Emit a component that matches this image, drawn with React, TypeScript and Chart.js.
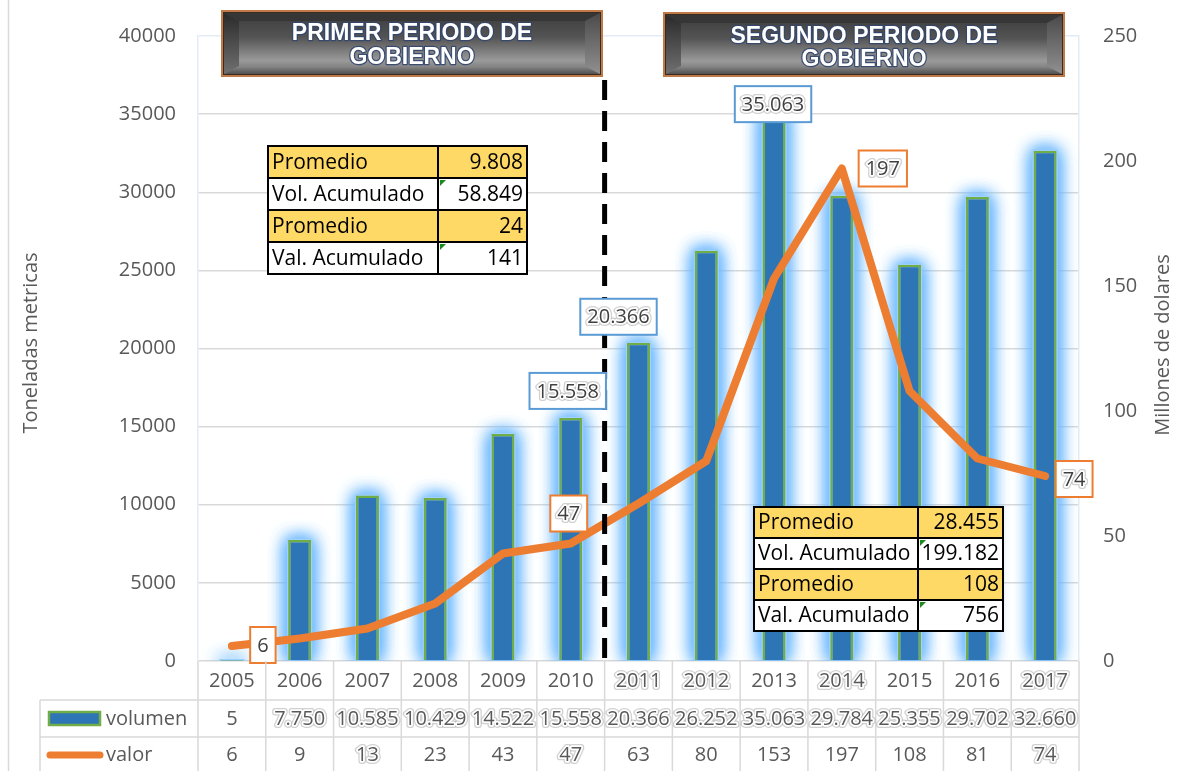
import React, { useEffect, useRef } from 'react';
import { Chart, registerables } from 'chart.js';

Chart.register(...registerables);

const years = ['2005', '2006', '2007', '2008', '2009', '2010', '2011', '2012', '2013', '2014', '2015', '2016', '2017'];
const volumen = [5, 7750, 10585, 10429, 14522, 15558, 20366, 26252, 35063, 29784, 25355, 29702, 32660];
const valor = [6, 9, 13, 23, 43, 47, 63, 80, 153, 197, 108, 81, 74];

const leftTicks = [0, 5000, 10000, 15000, 20000, 25000, 30000, 35000, 40000];
const rightTicks = [0, 50, 100, 150, 200, 250];

const summary1 = [
  ['Promedio', '9.808'],
  ['Vol. Acumulado', '58.849'],
  ['Promedio', '24'],
  ['Val. Acumulado', '141'],
];
const summary2 = [
  ['Promedio', '28.455'],
  ['Vol. Acumulado', '199.182'],
  ['Promedio', '108'],
  ['Val. Acumulado', '756'],
];

// which data labels are shown (index into series) and their offset from the mark
const volLabelIdx = [5, 6, 8];
const volLabelOff = [[-3, -27], [-20, -26], [-1, -9]];
const valLabelIdx = [0, 5, 9, 12];
const valLabelOff = [[31, -1], [-2, -30], [41, 0], [29, 3]];

const FONT = "'Open Sans', sans-serif";
const TXT = '#595959';

function fmt(n: number): string {
  const s = String(Math.round(n));
  return s.replace(/\B(?=(\d{3})+(?!\d))/g, '.');
}

function haloText(ctx: CanvasRenderingContext2D, text: string, x: number, y: number, halo: boolean) {
  if (halo) {
    ctx.save();
    ctx.lineJoin = 'round';
    ctx.strokeStyle = 'rgba(170,170,170,0.55)';
    ctx.lineWidth = 6;
    ctx.strokeText(text, x, y);
    ctx.strokeStyle = '#ffffff';
    ctx.lineWidth = 3.5;
    ctx.strokeText(text, x, y);
    ctx.restore();
  }
  ctx.fillText(text, x, y);
}

function drawBanner(ctx: CanvasRenderingContext2D, x: number, y: number, w: number, h: number, lines: string[], ys: number[]) {
  ctx.save();
  ctx.fillStyle = '#c07a48';
  ctx.fillRect(x, y, w, h);
  ctx.fillStyle = '#3a2a20';
  ctx.fillRect(x + 2, y + 2, w - 4, h - 4);
  const ix = x + 3, iy = y + 3, iw = w - 6, ih = h - 6;
  const g = ctx.createLinearGradient(0, iy, 0, iy + ih);
  g.addColorStop(0, '#3c3c3c');
  g.addColorStop(0.4, '#545454');
  g.addColorStop(0.78, '#9a9a9a');
  g.addColorStop(1, '#6a6a6a');
  ctx.fillStyle = g;
  ctx.fillRect(ix, iy, iw, ih);
  const b = 15, bt = 8;
  const poly = (pts: number[][], fill: any) => {
    ctx.beginPath();
    ctx.moveTo(pts[0][0], pts[0][1]);
    for (let i = 1; i < pts.length; i++) ctx.lineTo(pts[i][0], pts[i][1]);
    ctx.closePath();
    ctx.fillStyle = fill;
    ctx.fill();
  };
  poly([[ix, iy], [ix + iw, iy], [ix + iw - b, iy + bt], [ix + b, iy + bt]], '#363636');
  const gb = ctx.createLinearGradient(0, iy + ih - bt, 0, iy + ih);
  gb.addColorStop(0, '#8a8a8a');
  gb.addColorStop(1, '#505050');
  poly([[ix, iy + ih], [ix + iw, iy + ih], [ix + iw - b, iy + ih - bt], [ix + b, iy + ih - bt]], gb);
  const gl = ctx.createLinearGradient(0, iy, 0, iy + ih);
  gl.addColorStop(0, '#2a2a2a');
  gl.addColorStop(1, '#707070');
  poly([[ix, iy], [ix + b, iy + bt], [ix + b, iy + ih - bt], [ix, iy + ih]], gl);
  const gr = ctx.createLinearGradient(0, iy, 0, iy + ih);
  gr.addColorStop(0, '#4a4a4a');
  gr.addColorStop(1, '#909090');
  poly([[ix + iw, iy], [ix + iw - b, iy + bt], [ix + iw - b, iy + ih - bt], [ix + iw, iy + ih]], gr);
  ctx.font = `bold 23px 'Liberation Sans', Arial, sans-serif`;
  ctx.textAlign = 'center';
  ctx.textBaseline = 'middle';
  const cx = x + w / 2;
  lines.forEach((t, i) => {
    ctx.lineJoin = 'round';
    ctx.strokeStyle = 'rgba(50,70,110,0.9)';
    ctx.lineWidth = 2.5;
    ctx.strokeText(t, cx, ys[i]);
    ctx.fillStyle = '#ffffff';
    ctx.fillText(t, cx, ys[i]);
  });
  ctx.restore();
}

function drawSummary(ctx: CanvasRenderingContext2D, rows: string[][], left: number, split: number, right: number, top: number, rowH: number) {
  ctx.save();
  rows.forEach((r, i) => {
    const y0 = top + i * rowH;
    ctx.fillStyle = i % 2 === 0 ? '#ffd966' : '#ffffff';
    ctx.fillRect(left, y0, right - left, rowH);
  });
  ctx.strokeStyle = '#000000';
  ctx.lineWidth = 2;
  ctx.strokeRect(left, top, right - left, rowH * rows.length);
  for (let i = 1; i < rows.length; i++) {
    ctx.beginPath();
    ctx.moveTo(left, top + i * rowH);
    ctx.lineTo(right, top + i * rowH);
    ctx.stroke();
  }
  ctx.beginPath();
  ctx.moveTo(split, top);
  ctx.lineTo(split, top + rowH * rows.length);
  ctx.stroke();
  ctx.font = `21px ${FONT}`;
  ctx.textBaseline = 'middle';
  ctx.fillStyle = '#000000';
  rows.forEach((r, i) => {
    const cy = top + i * rowH + rowH / 2 + 1;
    ctx.textAlign = 'left';
    ctx.fillText(r[0], left + 4, cy);
    ctx.textAlign = 'right';
    ctx.fillText(r[1], right - 4, cy);
    if (i % 2 === 1) {
      ctx.fillStyle = '#1e8a1e';
      ctx.beginPath();
      ctx.moveTo(split + 2, top + i * rowH + 2);
      ctx.lineTo(split + 8, top + i * rowH + 2);
      ctx.lineTo(split + 2, top + i * rowH + 8);
      ctx.closePath();
      ctx.fill();
      ctx.fillStyle = '#000000';
    }
  });
  ctx.restore();
}

function drawBoxLabel(ctx: CanvasRenderingContext2D, text: string, cx: number, cy: number, color: string, halo: boolean) {
  ctx.save();
  ctx.font = `20px ${FONT}`;
  const w = ctx.measureText(text).width + 14;
  const h = 36;
  ctx.fillStyle = '#ffffff';
  ctx.fillRect(cx - w / 2, cy - h / 2, w, h);
  ctx.strokeStyle = color;
  ctx.lineWidth = 2;
  ctx.strokeRect(cx - w / 2, cy - h / 2, w, h);
  ctx.fillStyle = '#404040';
  ctx.textAlign = 'center';
  ctx.textBaseline = 'middle';
  haloText(ctx, text, cx, cy + 1, halo);
  ctx.restore();
}

const yearHalo = [6, 7, 9, 12];
const valHalo = [2, 5, 12];

const customPlugin = {
  id: 'customDraw',
  beforeDatasetDraw(chart: any, args: any) {
    if (args.index === 0) {
      const ctx: CanvasRenderingContext2D = chart.ctx;
      const area = chart.chartArea;
      const meta = chart.getDatasetMeta(0);
      ctx.save();
      ctx.beginPath();
      ctx.rect(area.left, 0, area.right - area.left, area.bottom);
      ctx.clip();
      ctx.shadowColor = 'rgba(110,185,255,1)';
      ctx.shadowBlur = 18;
      ctx.fillStyle = 'rgba(160,210,255,1)';
      for (let pass = 0; pass < 3; pass++) {
        meta.data.forEach((el: any) => {
          const p = el.getProps(['x', 'y', 'base', 'width'], true);
          const top = Math.min(p.y, p.base) - 1;
          const h = Math.max(Math.abs(p.base - p.y), 4);
          ctx.fillRect(p.x - p.width / 2 - 1, top, p.width + 2, h + 1);
        });
      }
      ctx.restore();
    }
  },
  afterDatasetsDraw(chart: any) {
    const ctx: CanvasRenderingContext2D = chart.ctx;
    const xs = chart.scales.x;
    const yl = chart.scales.y;
    const yr = chart.scales.y1;
    const area = chart.chartArea;
    const n = years.length;
    const step = xs.getPixelForValue(1) - xs.getPixelForValue(0);

    // dashed divider between 2010 and 2011
    const dx = (xs.getPixelForValue(5) + xs.getPixelForValue(6)) / 2;
    ctx.save();
    ctx.strokeStyle = '#000000';
    ctx.lineWidth = 5;
    ctx.setLineDash([20, 11]);
    ctx.beginPath();
    ctx.moveTo(dx, 80);
    ctx.lineTo(dx, area.bottom);
    ctx.stroke();
    ctx.restore();

    // data labels
    volLabelIdx.forEach((idx, k) => {
      const px = xs.getPixelForValue(idx) + volLabelOff[k][0];
      const py = yl.getPixelForValue(volumen[idx]) + volLabelOff[k][1];
      drawBoxLabel(ctx, fmt(volumen[idx]), px, py, '#5b9bd5', true);
    });
    valLabelIdx.forEach((idx, k) => {
      const px = xs.getPixelForValue(idx) + valLabelOff[k][0];
      const py = yr.getPixelForValue(valor[idx]) + valLabelOff[k][1];
      drawBoxLabel(ctx, String(valor[idx]), px, py, '#ed7d31', idx !== 0);
    });

    // banners
    drawBanner(ctx, 221, 10, 382, 67, ['PRIMER PERIODO DE', 'GOBIERNO'], [34, 58]);
    drawBanner(ctx, 663, 12, 402, 65, ['SEGUNDO PERIODO DE', 'GOBIERNO'], [37, 60]);

    // summary tables
    drawSummary(ctx, summary1, 268, 438, 527, 146, 32);
    drawSummary(ctx, summary2, 754, 918, 1003, 507, 31);

    // data table
    const bottom = area.bottom;
    const row1 = bottom + 39;
    const row2 = bottom + 76;
    const tblBottom = chart.height;
    const legLeft = 40;
    ctx.save();
    ctx.strokeStyle = '#d9d9d9';
    ctx.lineWidth = 1.5;
    ctx.beginPath();
    ctx.moveTo(legLeft, row1); ctx.lineTo(area.right, row1);
    ctx.moveTo(legLeft, row2); ctx.lineTo(area.right, row2);
    ctx.moveTo(legLeft, row1); ctx.lineTo(legLeft, tblBottom);
    for (let i = 0; i <= n; i++) {
      const xb = xs.getPixelForValue(0) - step / 2 + i * step;
      ctx.moveTo(xb, bottom); ctx.lineTo(xb, tblBottom);
    }
    ctx.stroke();
    ctx.fillStyle = TXT;
    ctx.font = `20px ${FONT}`;
    ctx.textAlign = 'center';
    ctx.textBaseline = 'middle';
    for (let i = 0; i < n; i++) {
      const cx = xs.getPixelForValue(i);
      haloText(ctx, years[i], cx, bottom + 20, yearHalo.includes(i));
      haloText(ctx, fmt(volumen[i]), cx, row1 + 19, i !== 0);
      haloText(ctx, String(valor[i]), cx, row2 + 18, valHalo.includes(i));
    }
    // legend keys
    ctx.fillStyle = '#2e75b6';
    ctx.fillRect(49, row1 + 12, 51, 13);
    ctx.strokeStyle = '#70ad47';
    ctx.lineWidth = 2.5;
    ctx.strokeRect(49, row1 + 12, 51, 13);
    ctx.strokeStyle = '#ed7d31';
    ctx.lineWidth = 7;
    ctx.lineCap = 'round';
    ctx.beginPath();
    ctx.moveTo(50, row2 + 18);
    ctx.lineTo(100, row2 + 18);
    ctx.stroke();
    ctx.fillStyle = TXT;
    ctx.textAlign = 'left';
    ctx.fillText('volumen', 106, row1 + 19);
    ctx.fillText('valor', 106, row2 + 18);

    // axis titles
    ctx.font = `20px ${FONT}`;
    ctx.textAlign = 'center';
    ctx.save();
    ctx.translate(31, 343);
    ctx.rotate(-Math.PI / 2);
    ctx.fillText('Toneladas metricas', 0, 0);
    ctx.restore();
    ctx.save();
    ctx.translate(1163, 345);
    ctx.rotate(-Math.PI / 2);
    ctx.fillText('Millones de dolares', 0, 0);
    ctx.restore();

    // outer frame line
    ctx.strokeStyle = '#d9d9d9';
    ctx.lineWidth = 1.5;
    ctx.beginPath();
    ctx.moveTo(8.5, 0);
    ctx.lineTo(8.5, chart.height);
    ctx.stroke();
    ctx.restore();
  },
};

export default function App() {
  const ref = useRef<HTMLCanvasElement | null>(null);
  useEffect(() => {
    if (!ref.current) return;
    const chart = new Chart(ref.current, {
      type: 'bar',
      data: {
        labels: years,
        datasets: [
          {
            type: 'bar',
            label: 'volumen',
            data: volumen,
            yAxisID: 'y',
            backgroundColor: '#2e75b6',
            borderColor: '#70ad47',
            borderWidth: 2.5,
            barPercentage: 0.34,
            categoryPercentage: 1,
            order: 2,
          },
          {
            type: 'line',
            label: 'valor',
            data: valor,
            yAxisID: 'y1',
            borderColor: '#ed7d31',
            backgroundColor: '#ed7d31',
            borderWidth: 8,
            pointRadius: 0,
            tension: 0,
            borderCapStyle: 'round',
            borderJoinStyle: 'round',
            order: 1,
          } as any,
        ],
      },
      options: {
        responsive: false,
        animation: false,
        layout: { padding: { top: 33, bottom: 110, left: 0, right: 0 } },
        plugins: { legend: { display: false }, tooltip: { enabled: false } },
        scales: {
          x: { display: false },
          y: {
            position: 'left',
            min: 0,
            max: 40000,
            afterFit: (s: any) => { s.width = 198; },
            afterBuildTicks: (s: any) => { s.ticks = leftTicks.map((v) => ({ value: v })); },
            ticks: {
              padding: 22,
              color: TXT,
              font: { family: FONT, size: 20 },
              callback: (v: any) => String(v),
            },
            grid: {
              color: (c: any) => (c.tick && c.tick.value === 40000 ? '#e3ecf5' : '#d9d9d9'),
              lineWidth: 1.5,
              drawTicks: false,
            },
            border: { display: true, color: '#e3ecf5', width: 1.5 },
          },
          y1: {
            position: 'right',
            min: 0,
            max: 250,
            afterFit: (s: any) => { s.width = 1193 - 1079; },
            afterBuildTicks: (s: any) => { s.ticks = rightTicks.map((v) => ({ value: v })); },
            ticks: {
              padding: 24,
              color: TXT,
              font: { family: FONT, size: 20 },
              callback: (v: any) => String(v),
            },
            grid: { display: false, drawTicks: false },
            border: { display: true, color: '#e3ecf5', width: 1.5 },
          },
        },
      },
      plugins: [customPlugin],
    });
    return () => chart.destroy();
  }, []);
  return (
    <div style={{ position: 'fixed', left: 0, top: 0, width: 1193, height: 771, background: '#ffffff' }}>
      <canvas ref={ref} width={1193} height={771} style={{ display: 'block' }} />
    </div>
  );
}
